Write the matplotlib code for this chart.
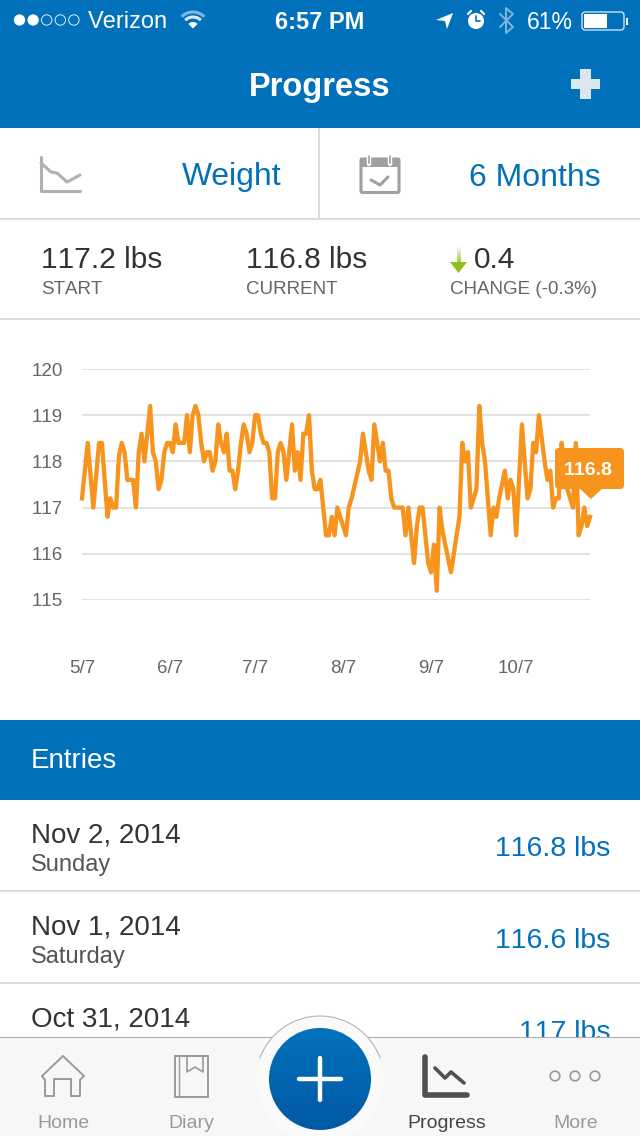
import numpy as np
import matplotlib
matplotlib.use('Agg')
import matplotlib.pyplot as plt
from matplotlib.colors import LinearSegmentedColormap
from matplotlib.patches import Rectangle, Circle, Polygon, FancyBboxPatch, Arc, Wedge

plt.rcParams['font.family'] = ['Liberation Sans', 'DejaVu Sans']
# the screenshot font does not pull "11" together, so switch kerning off
plt.rcParams['text.kerning_factor'] = 6

# chart data: day offset from 5/7, weight in lbs
days = [0, 2, 4, 6, 7, 9, 10, 11, 12, 13, 14, 15, 16, 18, 19, 20, 21, 22, 24, 25, 26, 27, 28, 29, 30,
        31, 32, 33, 34, 36, 37, 38, 39, 40, 41, 42, 43, 44, 45, 46, 47, 48, 49, 50, 51, 52, 53, 54, 55,
        56, 57, 58, 59, 60, 61, 62, 63, 64, 65, 66, 67, 68, 69, 70, 71, 72, 74, 75, 76, 77, 78, 79, 80,
        81, 82, 83, 84, 85, 86, 87, 88, 89, 90, 91, 93, 94, 95, 98, 99, 101, 102, 103, 105, 106, 107,
        108, 109, 110, 113, 114, 115, 117, 118, 119, 120, 122, 123, 124, 125, 126, 127, 130, 133, 134,
        135, 136, 137, 139, 140, 141, 142, 144, 145, 146, 147, 149, 150, 151, 152, 153, 155, 157, 158,
        159, 160, 161, 163, 164, 165, 166, 167, 168, 169, 170, 171, 172, 173, 174, 175, 176, 177, 178, 179]
weights = [117.2, 118.4, 117.0, 118.4, 118.4, 116.8, 117.2, 117.0, 117.0, 118.1, 118.4, 118.2, 117.6, 117.6,
           117.0, 118.2, 118.6, 118.0, 119.2, 118.2, 118.0, 117.4, 117.6, 118.2, 118.4, 118.4, 118.2, 118.8,
           118.4, 118.4, 119.0, 118.2, 119.0, 119.2, 119.0, 118.4, 118.0, 118.2, 118.2, 117.8, 118.0, 118.8,
           118.4, 118.2, 118.6, 117.8, 117.8, 117.4, 117.8, 118.4, 118.8, 118.6, 118.2, 118.4, 119.0, 119.0,
           118.6, 118.4, 118.4, 118.2, 117.2, 117.2, 118.2, 118.4, 118.2, 117.6, 118.8, 117.8, 118.2, 117.6,
           118.6, 118.6, 119.0, 117.8, 117.4, 117.4, 117.6, 117.0, 116.4, 116.4, 116.8, 116.4, 117.0, 116.8,
           116.4, 117.0, 117.2, 118.0, 118.6, 117.8, 117.6, 118.8, 118.0, 118.4, 117.8, 117.8, 117.2, 117.0,
           117.0, 116.4, 117.0, 115.8, 116.6, 117.0, 117.0, 115.8, 115.6, 116.2, 115.2, 117.0, 116.5, 115.6,
           116.8, 118.4, 118.0, 118.2, 117.0, 117.4, 119.2, 118.4, 118.0, 116.4, 117.0, 116.8, 117.2, 117.8,
           117.2, 117.6, 117.4, 116.4, 118.8, 117.2, 117.4, 118.4, 118.2, 119.0, 118.0, 117.6, 117.8, 117.0,
           117.2, 117.2, 118.4, 117.8, 117.4, 117.2, 117.0, 118.4, 116.4, 116.6, 117.0, 116.6, 116.8]

x_tick_days = [0, 31, 61, 92, 123, 153]
x_tick_labels = ['5/7', '6/7', '7/7', '8/7', '9/7', '10/7']
y_ticks = [115, 116, 117, 118, 119, 120]

entry_dates = ['Nov 2, 2014', 'Nov 1, 2014', 'Oct 31, 2014']
entry_days = ['Sunday', 'Saturday', '']
entry_values = ['116.8 lbs', '116.6 lbs', '117 lbs']

BLUE = '#0271BC'
ORANGE = '#F7941E'
DARK = '#333333'
MID = '#666666'
LINE = '#DCDCDC'

fig = plt.figure(figsize=(6.4, 11.36), dpi=100, facecolor='white')

# chart: axes box runs exactly along the 115 and 120 grid lines
ax = fig.add_axes([82 / 640, 1 - 600 / 1136, 508 / 640, 231 / 1136])
ax.plot(days, weights, color=ORANGE, lw=3.1, solid_joinstyle='round', zorder=3, clip_on=False)
ax.set_xlim(0, 179)
ax.set_ylim(115, 120)
ax.set_yticks(y_ticks)
ax.set_xticks(x_tick_days)
ax.set_xticklabels(x_tick_labels)
ax.grid(axis='y', color='#E2E2E2', lw=1.4)
ax.set_axisbelow(True)
ax.tick_params(axis='both', length=0, labelcolor=MID, labelsize=13.5)
ax.tick_params(axis='y', pad=14)
ax.tick_params(axis='x', pad=43.5)
for s in ax.spines.values():
    s.set_visible(False)
ax.patch.set_alpha(0)

# everything else is drawn in screen pixels on a see-through overlay
ui = fig.add_axes([0, 0, 1, 1], zorder=5)
ui.axis('off')


def label(x, y, s, size, color=DARK, ha='left', weight='normal', z=4):
    ui.text(x, y + 2.5, s, fontsize=size, color=color, ha=ha, va='center', fontweight=weight, zorder=z)


def rect(x0, y0, x1, y1, color, z=2):
    ui.add_patch(Rectangle((x0, y0), x1 - x0, y1 - y0, fc=color, ec='none', zorder=z))


def stroke(xs, ys, color, lw, z=4, **kw):
    ui.plot(xs, ys, color=color, lw=lw, zorder=z, solid_capstyle='round', solid_joinstyle='round', **kw)


# --- header ---
rect(0, 0, 640, 128, BLUE)
for i in range(5):
    filled = i < 2
    ui.add_patch(Circle((19.5 + i * 13.6, 20), 5.2, fc='white' if filled else 'none', ec='white', lw=0.6, zorder=4))
label(88, 20, 'Verizon', 17, 'white')
for r, a in [(16, 0.5), (11, 0.85)]:
    ui.add_patch(Arc((193, 28), 2 * r, 2 * r, theta1=225, theta2=315, color='white', lw=2.2, alpha=a, zorder=4))
ui.add_patch(Wedge((193, 28.5), 6.5, 225, 315, fc='white', ec='none', zorder=4))
label(320, 20, '6:57 PM', 17, 'white', ha='center', weight='bold')
ui.add_patch(Polygon([(436, 20), (453, 13), (447, 29), (445, 21)], fc='white', ec='none', zorder=4))
ui.add_patch(Circle((476, 21), 8, fc='white', ec='none', zorder=4))
stroke([476, 476, 480], [16, 21, 21], BLUE, 1.2)
stroke([468, 471], [14, 11], 'white', 1.6)
stroke([481, 484], [11, 14], 'white', 1.6)
stroke([500, 513, 506, 506, 513, 500], [14, 27, 33, 8, 14, 27], '#7FB5DC', 1.4)
label(527, 20, '61%', 16.5, 'white')
ui.add_patch(FancyBboxPatch((582, 12), 42, 18, boxstyle='round,pad=0,rounding_size=3', fc='none', ec='white', lw=0.8, zorder=4))
rect(584, 14, 607, 28, 'white', z=4)
rect(626, 17.5, 628, 24.5, 'white', z=4)

label(320, 85, 'Progress', 23.5, 'white', ha='center', weight='bold')
rect(580, 69, 591, 99, '#DCE6EF', z=4)
rect(571, 79, 600, 89, '#DCE6EF', z=4)

# --- selector row ---
stroke([41, 41, 80], [157, 191, 191], '#B0B0B0', 2.2)
stroke([41, 51, 57, 67, 80], [163, 172, 173, 182, 175], '#B0B0B0', 2.2)
label(232, 175, 'Weight', 23, BLUE, ha='center')
rect(318, 128, 320, 219, LINE)
rect(0, 218, 640, 220, LINE)
ui.add_patch(FancyBboxPatch((361, 159), 38, 33.5, boxstyle='round,pad=0,rounding_size=1.5', fc='white', ec='#A0A0A0', lw=2.2, zorder=3))
rect(360, 158, 400, 167, '#A0A0A0', z=4)
stroke([369, 369], [155, 164], 'white', 3.2, z=5)
stroke([390, 390], [155, 164], 'white', 3.2, z=5)
stroke([369, 369], [156, 163], '#A0A0A0', 1.2, z=6)
stroke([390, 390], [156, 163], '#A0A0A0', 1.2, z=6)
stroke([371, 380, 388], [180, 185, 177], '#A0A0A0', 2.2)
label(535, 175, '6 Months', 23, BLUE, ha='center')

# --- start / current / change ---
label(41, 258, '117.2 lbs', 21.5)
label(41, 287, 'START', 13.5, MID)
label(246, 258, '116.8 lbs', 21.5)
label(246, 287, 'CURRENT', 13.5, MID)
grad = np.linspace(0, 1, 50).reshape(-1, 1)
ui.imshow(grad, extent=(456.5, 460.5, 265, 246), aspect='auto', zorder=4,
          cmap=LinearSegmentedColormap.from_list('g', ['#FFFFFF', '#8DBF1F']))
ui.add_patch(Polygon([(450, 262), (467, 262), (458.5, 273)], fc='#8DBF1F', ec='none', zorder=4))
label(474, 258, '0.4', 21.5)
label(450, 287, 'CHANGE (-0.3%)', 13.5, MID)
rect(0, 318, 640, 320, LINE)

# --- callout on the last point ---
ui.add_patch(FancyBboxPatch((555, 448), 69, 41, boxstyle='round,pad=0,rounding_size=4', fc=ORANGE, ec='none', zorder=6))
ui.add_patch(Polygon([(579, 488), (603, 488), (591, 499)], fc=ORANGE, ec='none', zorder=6))
label(588.5, 468, '116.8', 14, 'white', ha='center', weight='bold', z=7)

# --- entries ---
rect(0, 720, 640, 800, BLUE)
label(31, 759, 'Entries', 20, 'white')
row_tops = [833, 925, 1017]
for top, d, wd, v in zip(row_tops, entry_dates, entry_days, entry_values):
    label(31, top, d, 20, DARK, z=1)
    if wd:
        label(31, top + 30, wd, 17, '#555555', z=1)
    label(610, top + 14, v, 20.5, BLUE, ha='right', z=1)
rect(0, 890, 640, 892, LINE)
rect(0, 982, 640, 984, LINE)

# --- tab bar ---
rect(0, 1037, 640, 1136, '#F7F7F7', z=2)
rect(0, 1036.5, 640, 1037.5, '#ADADAD', z=3)
ui.add_patch(Circle((320, 1080), 64, fc='#FAFAFA', ec='none', zorder=3))
ui.add_patch(Arc((320, 1080), 128, 128, theta1=200, theta2=340, color='#B5B5B5', lw=0.8, zorder=4))
gy = np.linspace(0, 1, 100).reshape(-1, 1)
btn = ui.imshow(gy, extent=(269, 371, 1130, 1028), aspect='auto', zorder=5,
                cmap=LinearSegmentedColormap.from_list('b', ['#0272BD', '#0159A3']))
btn.set_clip_path(Circle((320, 1079), 51, transform=ui.transData))
stroke([320, 320], [1058, 1100], 'white', 3.2, z=6)
stroke([299, 341], [1079, 1079], 'white', 3.2, z=6)

GRAY_ICON = '#9A9A9A'
# house
stroke([42, 63, 84, 80, 80, 71, 71, 54, 54, 45, 45, 42], [1076, 1056, 1076, 1080, 1096, 1096, 1079, 1079, 1096, 1096, 1080, 1076], GRAY_ICON, 1.4)
# diary
ui.add_patch(Rectangle((175, 1056), 33, 41, fc='none', ec=GRAY_ICON, lw=1.4, zorder=4))
stroke([179, 179], [1056, 1097], GRAY_ICON, 1.0)
stroke([187, 187, 195, 203, 203], [1056, 1072, 1067, 1072, 1056], GRAY_ICON, 1.2)
# progress
stroke([424.5, 424.5, 467], [1057, 1095, 1095], '#505050', 4)
stroke([435, 445, 451, 464], [1068, 1078, 1072, 1083], '#505050', 2.6)
# more
for cx in [555, 575, 595]:
    ui.add_patch(Circle((cx, 1076), 4.8, fc='none', ec=GRAY_ICON, lw=1.2, zorder=4))

label(63, 1121, 'Home', 14, '#9A9A9A', ha='center')
label(191, 1121, 'Diary', 14, '#9A9A9A', ha='center')
label(447, 1121, 'Progress', 14, '#444444', ha='center')
label(576, 1121, 'More', 14, '#9A9A9A', ha='center')

# imshow resets the limits, so set them last
ui.set_xlim(0, 640)
ui.set_ylim(1136, 0)

fig.savefig('out.png', dpi=100)
